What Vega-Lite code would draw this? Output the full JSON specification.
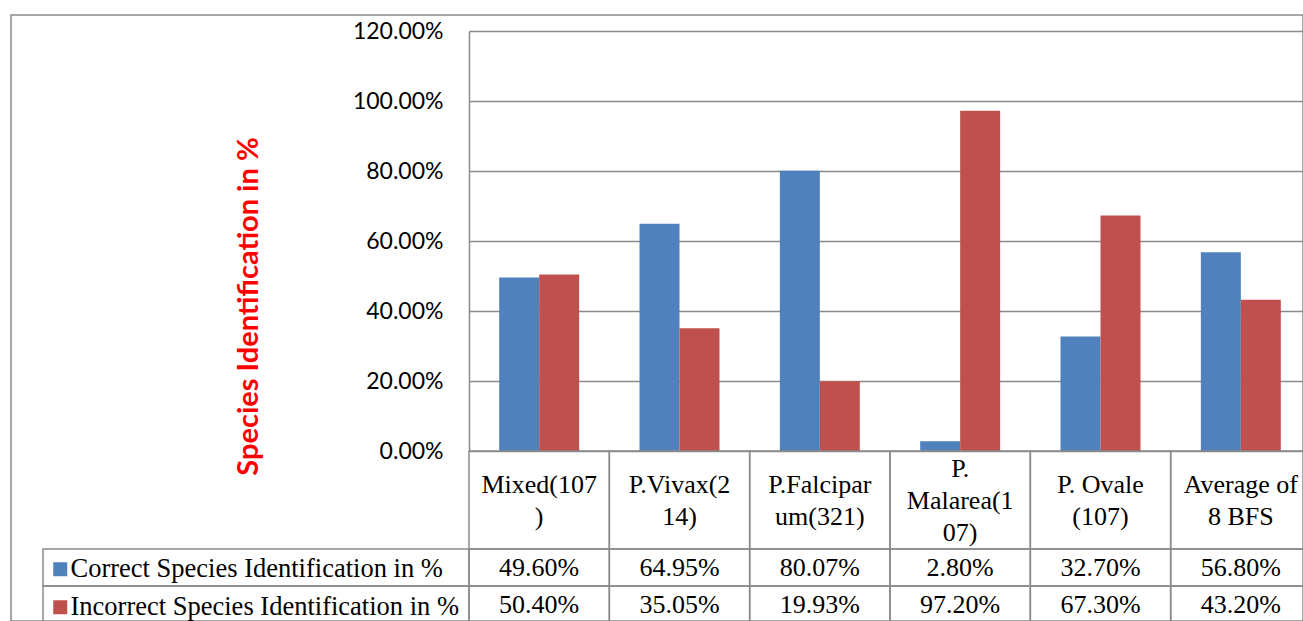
{
  "$schema": "https://vega.github.io/schema/vega-lite/v6.json",
  "width": 1292,
  "height": 606,
  "autosize": {"type": "none"},
  "padding": {"left": 11, "top": 15, "right": 0, "bottom": 0},
  "background": "white",
  "config": {
    "view": {"stroke": "#8a8a8a", "strokeWidth": 1.5},
    "font": "Liberation Serif",
    "text": {"font": "Liberation Serif", "fontSize": 26, "color": "black"}
  },
  "datasets": {
    "main": [
      {"category": "Mixed(107)", "label": "Mixed(107\n)", "lines": 2, "series": "Correct Species Identification in %", "value": 0.496},
      {"category": "Mixed(107)", "label": "Mixed(107\n)", "lines": 2, "series": "Incorrect Species Identification in %", "value": 0.504},
      {"category": "P.Vivax(214)", "label": "P.Vivax(2\n14)", "lines": 2, "series": "Correct Species Identification in %", "value": 0.6495},
      {"category": "P.Vivax(214)", "label": "P.Vivax(2\n14)", "lines": 2, "series": "Incorrect Species Identification in %", "value": 0.3505},
      {"category": "P.Falciparum(321)", "label": "P.Falcipar\num(321)", "lines": 2, "series": "Correct Species Identification in %", "value": 0.8007},
      {"category": "P.Falciparum(321)", "label": "P.Falcipar\num(321)", "lines": 2, "series": "Incorrect Species Identification in %", "value": 0.1993},
      {"category": "P. Malarea(107)", "label": "P.\nMalarea(1\n07)", "lines": 3, "series": "Correct Species Identification in %", "value": 0.028},
      {"category": "P. Malarea(107)", "label": "P.\nMalarea(1\n07)", "lines": 3, "series": "Incorrect Species Identification in %", "value": 0.972},
      {"category": "P. Ovale (107)", "label": "P. Ovale\n(107)", "lines": 2, "series": "Correct Species Identification in %", "value": 0.327},
      {"category": "P. Ovale (107)", "label": "P. Ovale\n(107)", "lines": 2, "series": "Incorrect Species Identification in %", "value": 0.673},
      {"category": "Average of 8 BFS", "label": "Average of\n8 BFS", "lines": 2, "series": "Correct Species Identification in %", "value": 0.568},
      {"category": "Average of 8 BFS", "label": "Average of\n8 BFS", "lines": 2, "series": "Incorrect Species Identification in %", "value": 0.432}
    ]
  },
  "data": {"name": "main"},
  "layer": [
    {
      "mark": {"type": "bar"},
      "encoding": {
        "x": {"field": "category", "type": "nominal", "axis": null,
          "scale": {"domain": ["Mixed(107)", "P.Vivax(214)", "P.Falciparum(321)", "P. Malarea(107)", "P. Ovale (107)", "Average of 8 BFS"], "range": [458, 1300], "paddingInner": 0, "paddingOuter": 0}},
        "xOffset": {"field": "series", "type": "nominal",
          "scale": {"domain": ["Correct Species Identification in %", "Incorrect Species Identification in %"], "paddingInner": 0, "paddingOuter": 0.755}},
        "y": {"field": "value", "type": "quantitative",
          "scale": {"domain": [0, 1.2], "range": [436, 16], "nice": false},
          "axis": {
            "title": "Species Identification in %",
            "format": ".2%",
            "values": [0, 0.2, 0.4, 0.6, 0.8, 1, 1.2],
            "offset": -458,
            "grid": true, "gridColor": "#8a8a8a", "gridWidth": 1.5,
            "domainColor": "#8a8a8a", "domainWidth": 1.5,
            "ticks": false, "tickSize": 0,
            "labelPadding": 26, "labelFont": "Lato", "labelFontSize": 23, "labelColor": "black",
            "titleFont": "Lato", "titleFontSize": 29, "titleFontWeight": "bold", "titleColor": "#FF0000",
            "titleX": -221, "titleY": 291, "titleAngle": -90, "titleAlign": "center", "titleBaseline": "middle"
          }},
        "color": {"field": "series", "type": "nominal",
          "scale": {"domain": ["Correct Species Identification in %", "Incorrect Species Identification in %"], "range": ["#4F81BD", "#C0504D"]},
          "legend": {"orient": "none", "legendX": 36, "legendY": 541, "title": null, "padding": 0,
            "symbolType": "square", "symbolSize": 196, "symbolStrokeWidth": 0,
            "labelFont": "Liberation Serif", "labelFontSize": 26.5, "labelColor": "black", "labelLimit": 600,
            "rowPadding": 11, "labelOffset": -3}}
      }
    },
    {
      "transform": [{"aggregate": [{"op": "count", "as": "n"}], "groupby": ["category", "label", "lines"]}],
      "encoding": {
        "x": {"field": "category", "type": "nominal", "axis": null,
          "scale": {"domain": ["Mixed(107)", "P.Vivax(214)", "P.Falciparum(321)", "P. Malarea(107)", "P. Ovale (107)", "Average of 8 BFS"], "range": [458, 1300], "paddingInner": 0, "paddingOuter": 0}},
        "y": {"datum": "header", "type": "nominal", "axis": null,
          "scale": {"range": [436, 534], "paddingInner": 0, "paddingOuter": 0}}
      },
      "layer": [
        {"mark": {"type": "rect", "fill": "transparent", "stroke": "#8a8a8a", "strokeWidth": 1.5}},
        {"transform": [{"filter": "datum.lines == 2"}],
          "mark": {"type": "text", "lineBreak": "\n", "fontSize": 26, "lineHeight": 32, "dy": -15, "font": "Liberation Serif", "color": "black"},
          "encoding": {"text": {"field": "label"}}},
        {"transform": [{"filter": "datum.lines == 3"}],
          "mark": {"type": "text", "lineBreak": "\n", "fontSize": 26, "lineHeight": 32, "dy": -31, "font": "Liberation Serif", "color": "black"},
          "encoding": {"text": {"field": "label"}}}
      ]
    },
    {
      "encoding": {
        "x": {"field": "category", "type": "nominal", "axis": null,
          "scale": {"domain": ["Mixed(107)", "P.Vivax(214)", "P.Falciparum(321)", "P. Malarea(107)", "P. Ovale (107)", "Average of 8 BFS"], "range": [458, 1300], "paddingInner": 0, "paddingOuter": 0}},
        "y": {"field": "series", "type": "nominal", "axis": null,
          "scale": {"domain": ["Correct Species Identification in %", "Incorrect Species Identification in %"], "range": [534, 608], "paddingInner": 0, "paddingOuter": 0}}
      },
      "layer": [
        {"mark": {"type": "rect", "fill": "transparent", "stroke": "#8a8a8a", "strokeWidth": 1.5}},
        {"mark": {"type": "text", "fontSize": 26, "font": "Liberation Serif", "color": "black"},
          "encoding": {"text": {"field": "value", "format": ".2%"}}}
      ]
    },
    {
      "transform": [{"aggregate": [{"op": "count", "as": "n"}], "groupby": ["series"]}],
      "mark": {"type": "rect", "fill": "transparent", "stroke": "#8a8a8a", "strokeWidth": 1.5},
      "encoding": {
        "x": {"datum": "legend", "type": "nominal", "axis": null,
          "scale": {"range": [32, 458], "paddingInner": 0, "paddingOuter": 0}},
        "y": {"field": "series", "type": "nominal", "axis": null,
          "scale": {"domain": ["Correct Species Identification in %", "Incorrect Species Identification in %"], "range": [534, 608], "paddingInner": 0, "paddingOuter": 0}}
      }
    }
  ],
  "resolve": {"scale": {"x": "independent", "y": "independent"}}
}
